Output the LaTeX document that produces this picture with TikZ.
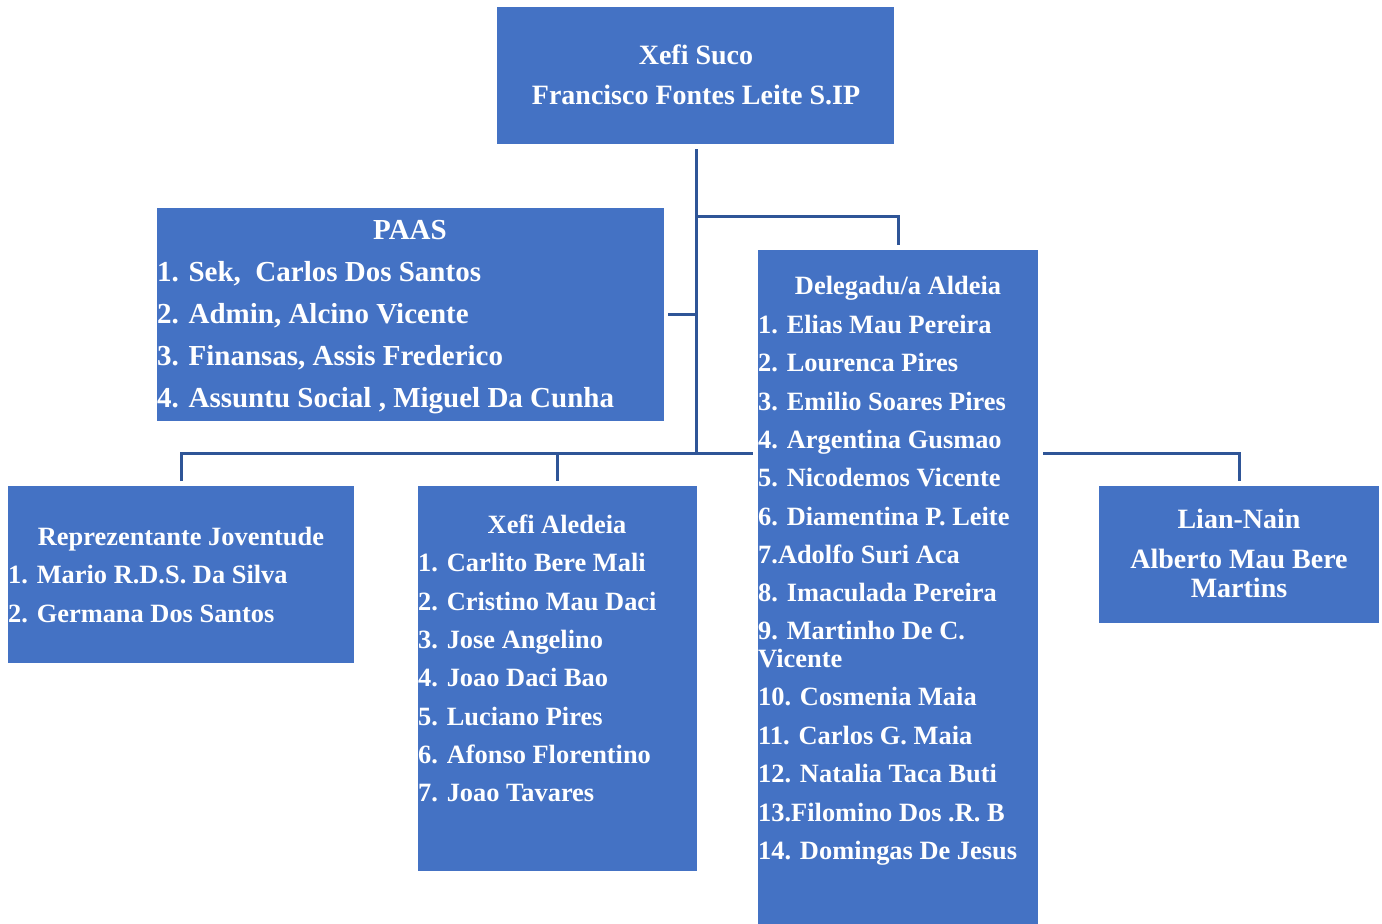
\documentclass[tikz,border=0pt]{standalone}
\usepackage{fontspec}
\setmainfont{Liberation Serif}
\definecolor{boxblue}{RGB}{68,114,196}
\definecolor{linkblue}{RGB}{47,85,151}
\begin{document}
\begin{tikzpicture}[x=1pt,y=-1pt,
  box/.style={fill=boxblue, draw=none, anchor=north west, inner sep=0pt},
  txt/.style={text=white, font=\fontsize{26.4}{30}\selectfont\bfseries, inner sep=0pt},
  lt/.style={txt, anchor=base west},
  ct/.style={txt, anchor=base},
  big/.style={font=\fontsize{28}{32}\selectfont\bfseries},
  paasf/.style={font=\fontsize{29}{33}\selectfont\bfseries},
  link/.style={draw=linkblue, line width=3pt}]
\useasboundingbox (0,0) rectangle (1382,924);
% boxes
\node[box, minimum width=397pt, minimum height=137pt] (top) at (497,7) {};
\node[box, minimum width=507pt, minimum height=213pt] (paas) at (157,208) {};
\node[box, minimum width=280pt, minimum height=674pt] (dele) at (758,250) {};
\node[box, minimum width=346pt, minimum height=177pt] (joven) at (8,486) {};
\node[box, minimum width=279pt, minimum height=385pt] (aldeia) at (418,486) {};
\node[box, minimum width=280pt, minimum height=137pt] (lian) at (1099,486) {};
% connector coordinates
\coordinate (trunkTop) at (696,149);
\coordinate (trunkBot) at (696,453);
\coordinate (jDele) at (696,216);
\coordinate (deleTop) at (898,245);
\coordinate (jPaas) at (696,314);
\coordinate (paasR) at (668,314);
\coordinate (hMid) at (557,453);
\coordinate (hEnd) at (753,453);
\coordinate (joveTop) at (181,481);
\coordinate (aldTop) at (557,481);
\coordinate (hR) at (1043,453);
\coordinate (lianTop) at (1239,481);
\draw[link] (trunkTop) -- (trunkBot);
\draw[link] (jDele) -| (deleTop);
\draw[link] (paasR) -- (jPaas);
\draw[link] (joveTop) |- (hEnd);
\draw[link] (hMid) -- (aldTop);
\draw[link] (hR) -| (lianTop);
% top text
\node[ct, big] (t1) at (696,64) {Xefi Suco};
\node[ct, big] (t2) at (696,104) {Francisco Fontes Leite S.IP};
% PAAS
\node[ct, paasf] (p0) at (410,239) {PAAS};
\node[lt, paasf] (p1) at (157,281) {1. Sek,\ \ Carlos Dos Santos};
\node[lt, paasf] (p2) at (157,323) {2. Admin, Alcino Vicente};
\node[lt, paasf] (p3) at (157,365) {3. Finansas, Assis Frederico};
\node[lt, paasf] (p4) at (157,407) {4. Assuntu Social , Miguel Da Cunha};
% Delegadu
\node[ct] (d0) at (898,294) {Delegadu/a Aldeia};
\node[lt] (d1) at (758,333) {1. Elias Mau Pereira};
\node[lt] (d2) at (758,371) {2. Lourenca Pires};
\node[lt] (d3) at (758,410) {3. Emilio Soares Pires};
\node[lt] (d4) at (758,448) {4. Argentina Gusmao};
\node[lt] (d5) at (758,486) {5. Nicodemos Vicente};
\node[lt] (d6) at (758,525) {6. Diamentina P. Leite};
\node[lt] (d7) at (758,563) {7.Adolfo Suri Aca};
\node[lt] (d8) at (758,601) {8. Imaculada Pereira};
\node[lt] (d9) at (758,639) {9. Martinho De C.};
\node[lt] (d9b) at (758,667) {Vicente};
\node[lt] (d10) at (758,705) {10. Cosmenia Maia};
\node[lt] (d11) at (758,744) {11. Carlos G. Maia};
\node[lt] (d12) at (758,782) {12. Natalia Taca Buti};
\node[lt] (d13) at (758,821) {13.Filomino Dos .R. B};
\node[lt] (d14) at (758,859) {14. Domingas De Jesus};
% Joventude
\node[ct] (j0) at (181,545) {Reprezentante Joventude};
\node[lt] (j1) at (8,583) {1. Mario R.D.S. Da Silva};
\node[lt] (j2) at (8,622) {2. Germana Dos Santos};
% Xefi Aldeia
\node[ct] (a0) at (557,533) {Xefi Aledeia};
\node[lt] (a1) at (418,571) {1. Carlito Bere Mali};
\node[lt] (a2) at (418,610) {2. Cristino Mau Daci};
\node[lt] (a3) at (418,648) {3. Jose Angelino};
\node[lt] (a4) at (418,686) {4. Joao Daci Bao};
\node[lt] (a5) at (418,725) {5. Luciano Pires};
\node[lt] (a6) at (418,763) {6. Afonso Florentino};
\node[lt] (a7) at (418,801) {7. Joao Tavares};
% Lian-Nain
\node[ct, big] (l0) at (1239,528) {Lian-Nain};
\node[ct, big] (l1) at (1239,568) {Alberto Mau Bere};
\node[ct, big] (l2) at (1239,597) {Martins};
\end{tikzpicture}
\end{document}
